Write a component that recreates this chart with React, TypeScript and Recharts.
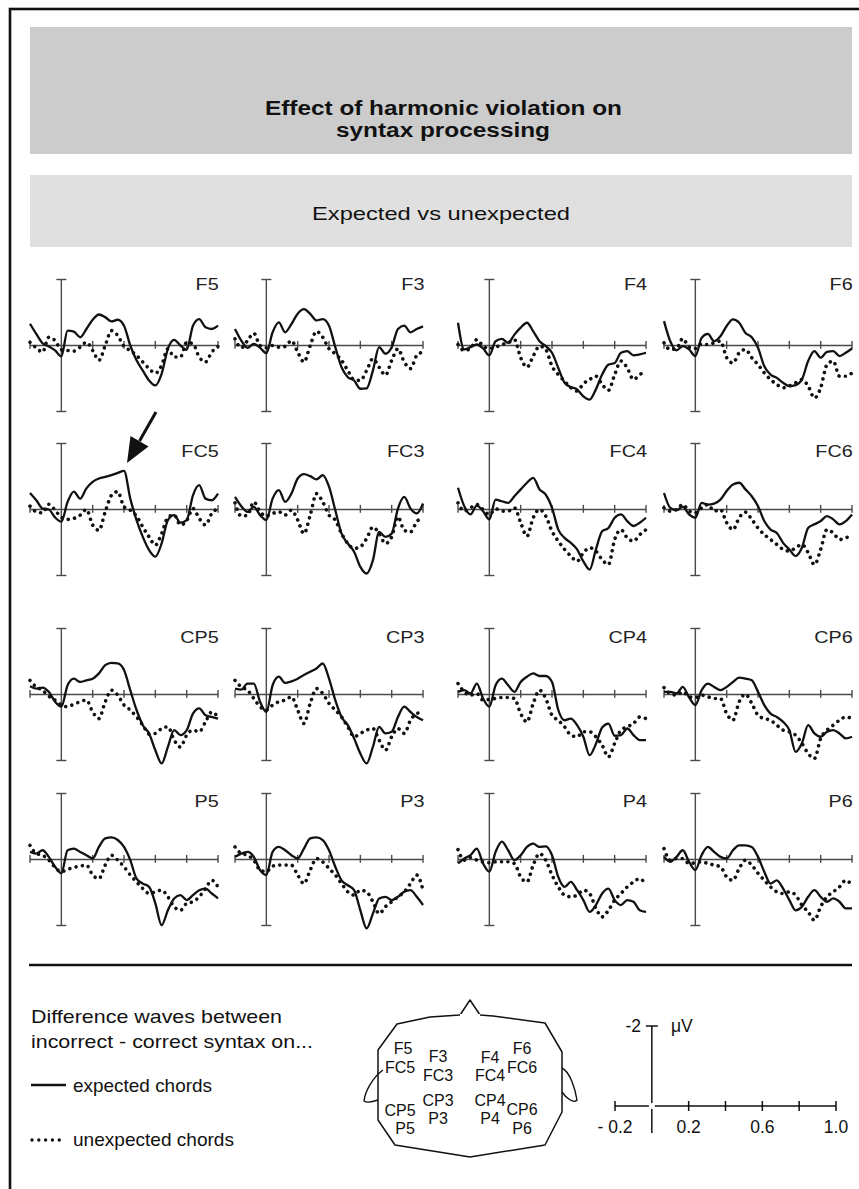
import React from 'react';
import { LineChart, Line, XAxis, YAxis, ReferenceLine } from 'recharts';

// time points (s) shared by every electrode
const TIMES = [-0.2, -0.16, -0.12, -0.08, -0.04, 0, 0.04, 0.08, 0.12, 0.16, 0.2, 0.24, 0.28, 0.32, 0.36, 0.4, 0.44, 0.48, 0.52, 0.56, 0.6, 0.64, 0.68, 0.72, 0.76, 0.8, 0.84, 0.88, 0.92, 0.96, 1.0];
const PANEL_TICKS = [-0.2, 0.2, 0.4, 0.6, 0.8, 1.0];

// difference waves in µV (negative plotted up)
const F5_EXP = [-0.66, -0.35, -0.07, 0.03, 0.15, 0.33, -0.45, -0.42, -0.25, -0.5, -0.78, -0.94, -0.86, -0.73, -0.78, -0.6, 0, 0.45, 0.76, 1.06, 1.21, 0.86, 0.1, -0.17, 0, 0.13, -0.6, -0.8, -0.55, -0.5, -0.6];
const F5_UNEXP = [-0.1, 0.07, 0.2, -0.25, -0.15, 0.13, 0.15, 0.17, 0.05, -0.1, 0.15, 0.45, 0, -0.45, -0.3, 0.03, 0.15, 0.3, 0.5, 0.7, 0.84, 0.6, 0.1, 0.35, 0.35, -0.1, -0.05, 0.35, 0.5, 0.2, 0.03];
const F3_EXP = [-0.5, -0.15, 0.07, -0.05, 0.07, 0.23, -0.4, -0.7, -0.4, -0.65, -0.96, -1.1, -0.96, -0.76, -0.8, -0.6, 0.05, 0.66, 0.96, 1.06, 1.31, 1.3, 0.76, 0.05, 0.25, 0.05, -0.5, -0.6, -0.4, -0.5, -0.58];
const F3_UNEXP = [-0.2, 0.07, -0.15, -0.37, 0, 0.07, 0, 0.05, 0.03, -0.15, 0.2, 0.5, 0, -0.43, -0.25, 0.1, 0.25, 0.45, 0.76, 1.04, 1.06, 0.76, 0.4, 0.66, 0.9, 0.45, 0.1, 0.5, 0.7, 0.3, 0.2];
const F4_EXP = [-0.69, 0.12, 0.05, -0.03, 0.09, 0.3, -0.13, -0.2, -0.08, -0.33, -0.54, -0.69, -0.43, -0.13, 0.02, 0.22, 0.68, 1.13, 1.26, 1.33, 1.54, 1.64, 1.33, 0.88, 0.58, 0.53, 0.22, 0.17, 0.3, 0.27, 0.22];
const F4_UNEXP = [-0.03, 0.15, 0.09, -0.18, 0.02, 0.09, 0.05, -0.03, -0.08, -0.18, 0.37, 0.66, 0.32, 0.02, 0.12, 0.63, 0.88, 1.08, 1.28, 1.38, 1.16, 1.03, 0.93, 1.18, 1.36, 0.88, 0.47, 0.68, 1.03, 0.88, 0.78];
const F6_EXP = [-0.74, -0.13, 0.15, 0.02, 0.12, 0.32, -0.23, -0.35, -0.13, -0.28, -0.59, -0.79, -0.69, -0.38, -0.25, 0.07, 0.63, 0.88, 0.98, 1.13, 1.23, 1.2, 1.03, 0.47, 0.17, 0.37, 0.19, 0.17, 0.32, 0.22, 0.09];
const F6_UNEXP = [-0.08, 0.12, 0.09, -0.21, 0.05, 0.09, -0.05, -0.03, -0.08, -0.13, 0.37, 0.53, 0.22, 0.12, 0.37, 0.58, 0.83, 1.03, 1.18, 1.28, 1.23, 1.13, 1.03, 1.23, 1.59, 1.28, 0.58, 0.47, 0.93, 0.93, 0.83];

const FC5_EXP = [-0.5, -0.28, -0.03, 0, 0.24, 0.37, -0.23, -0.54, -0.33, -0.64, -0.84, -0.94, -0.99, -1.04, -1.11, -1.17, -0.33, 0.32, 0.83, 1.23, 1.43, 1.03, 0.32, 0.17, 0.4, 0.32, -0.43, -0.74, -0.33, -0.28, -0.48];
const FC5_UNEXP = [-0.1, 0.07, 0.1, -0.16, 0.02, 0.24, 0.3, 0.27, 0.17, 0, 0.47, 0.63, 0.07, -0.43, -0.54, -0.08, 0.02, 0.2, 0.53, 0.83, 1.08, 0.73, 0.24, 0.17, 0.47, 0.34, -0.03, 0.27, 0.47, 0.12, -0.03];
const FC3_EXP = [-0.38, -0.1, 0.07, -0.08, 0.17, 0.32, -0.33, -0.59, -0.23, -0.48, -0.94, -1.07, -1.01, -0.91, -1.04, -0.69, 0.02, 0.73, 1.03, 1.28, 1.74, 1.94, 1.54, 0.68, 0.83, 0.73, -0.03, -0.38, -0.03, 0.12, -0.18];
const FC3_UNEXP = [-0.2, 0.2, 0.17, -0.23, 0.07, 0.2, 0.12, 0.07, 0.17, 0.02, 0.32, 0.73, 0.17, -0.48, -0.23, 0.17, 0.32, 0.73, 1.03, 1.18, 1.13, 0.88, 0.53, 0.73, 1.03, 0.83, 0.22, 0.63, 0.68, 0.37, 0.22];
const FC4_EXP = [-0.66, -0.1, 0.15, -0.12, 0.05, 0.3, -0.3, -0.25, -0.2, -0.4, -0.61, -0.81, -0.96, -0.61, -0.45, -0.05, 0.61, 0.86, 1.01, 1.21, 1.57, 1.82, 1.21, 0.66, 0.56, 0.25, 0.15, 0.35, 0.5, 0.4, 0.25];
const FC4_UNEXP = [-0.2, 0.05, -0.05, -0.15, 0, 0.15, -0.02, 0.05, 0.05, -0.05, 0.4, 0.81, 0.25, 0, 0.2, 0.66, 0.96, 1.21, 1.41, 1.57, 1.31, 1.16, 1.26, 1.52, 1.67, 0.91, 0.61, 0.86, 0.96, 0.76, 0.61];
const FC6_EXP = [-0.5, -0.05, 0.02, -0.08, 0.15, 0.25, -0.2, -0.15, -0.18, -0.3, -0.56, -0.76, -0.81, -0.61, -0.4, -0.1, 0.35, 0.61, 0.71, 1.01, 1.21, 1.41, 1.16, 0.56, 0.45, 0.35, 0.2, 0.3, 0.45, 0.35, 0.15];
const FC6_UNEXP = [-0.05, 0.05, 0, -0.15, 0.05, 0.1, -0.05, -0.15, 0.05, 0, 0.4, 0.61, 0.25, 0.08, 0.3, 0.56, 0.76, 0.91, 1.06, 1.21, 1.26, 1.16, 1.06, 1.31, 1.67, 1.21, 0.61, 0.71, 0.91, 0.86, 0.76];

const CP5_EXP = [-0.25, -0.18, -0.21, -0.08, 0.22, 0.37, -0.28, -0.48, -0.38, -0.43, -0.48, -0.64, -0.89, -0.96, -0.94, -0.74, -0.13, 0.47, 0.93, 1.18, 1.69, 2.09, 1.59, 1.08, 1.23, 1.08, 0.58, 0.42, 0.63, 0.68, 0.73];
const CP5_UNEXP = [-0.43, -0.23, -0.13, 0.05, 0.17, 0.32, 0.37, 0.29, 0.22, 0.17, 0.53, 0.73, 0.22, -0.13, 0.02, 0.32, 0.47, 0.68, 0.93, 1.2, 1.18, 1.03, 0.98, 1.38, 1.59, 1.23, 1.08, 1.13, 0.83, 0.53, 0.68];
const CP3_EXP = [-0.18, -0.15, -0.33, -0.33, 0.22, 0.53, -0.28, -0.54, -0.35, -0.4, -0.48, -0.59, -0.69, -0.79, -0.94, -0.48, 0.17, 0.68, 0.93, 1.33, 1.79, 2.09, 1.59, 0.98, 1.18, 1.13, 0.68, 0.37, 0.53, 0.68, 0.78];
const CP3_UNEXP = [-0.43, -0.23, -0.13, 0.12, 0.37, 0.47, 0.32, 0.22, 0.17, 0.07, 0.47, 0.88, 0.27, -0.18, -0.03, 0.27, 0.47, 0.68, 0.98, 1.28, 1.18, 1.08, 1.03, 1.38, 1.69, 1.28, 1.03, 1.18, 0.78, 0.58, 0.53];
const CP4_EXP = [-0.08, -0.13, -0.03, -0.33, 0.12, 0.37, -0.28, -0.48, -0.28, -0.08, -0.38, -0.54, -0.64, -0.56, -0.56, -0.38, 0.47, 0.78, 0.73, 0.93, 1.28, 1.84, 1.5, 1.0, 0.88, 1.25, 1.23, 1.03, 1.23, 1.38, 1.38];
const CP4_UNEXP = [-0.33, -0.08, 0.02, -0.03, 0.17, 0.15, 0.12, 0.09, 0.09, 0.12, 0.58, 0.83, 0.27, -0.13, 0.12, 0.63, 0.78, 0.98, 1.23, 1.28, 1.13, 1.13, 1.28, 1.54, 1.89, 1.48, 1.08, 0.98, 0.88, 0.68, 0.73];
const CP6_EXP = [-0.08, -0.08, -0.03, -0.23, 0.09, 0.32, -0.13, -0.33, -0.23, -0.13, -0.23, -0.38, -0.51, -0.48, -0.43, -0.08, 0.32, 0.58, 0.68, 0.83, 1.08, 1.74, 1.48, 0.93, 1.18, 1.28, 1.13, 1.08, 1.18, 1.33, 1.28];
const CP6_UNEXP = [-0.21, -0.03, 0.02, -0.08, 0.07, 0.09, 0.02, 0.07, 0.12, 0.12, 0.58, 0.78, 0.22, -0.01, 0.27, 0.63, 0.73, 0.78, 0.93, 1.08, 1.13, 1.23, 1.48, 1.79, 1.94, 1.33, 1.08, 0.93, 0.78, 0.68, 0.73];

const P5_EXP = [-0.23, -0.18, -0.28, -0.08, 0.22, 0.42, -0.28, -0.33, -0.23, -0.13, -0.03, -0.38, -0.64, -0.67, -0.59, -0.38, 0.02, 0.58, 0.73, 0.83, 1.33, 1.99, 1.54, 1.18, 1.08, 1.23, 1.08, 0.93, 0.88, 1.03, 1.18];
const P5_UNEXP = [-0.43, -0.18, -0.13, 0.02, 0.24, 0.37, 0.3, 0.24, 0.2, 0.17, 0.47, 0.58, 0.17, -0.13, 0.02, 0.22, 0.47, 0.68, 0.88, 1.03, 0.98, 0.93, 1.13, 1.43, 1.54, 1.33, 1.28, 1.13, 0.88, 0.63, 0.83];
const P3_EXP = [-0.08, -0.18, -0.23, -0.08, 0.32, 0.47, -0.23, -0.38, -0.28, -0.13, -0.03, -0.33, -0.64, -0.67, -0.59, -0.28, 0.22, 0.63, 0.78, 0.93, 1.54, 2.09, 1.64, 1.18, 1.13, 1.23, 1.13, 0.98, 0.93, 1.13, 1.38];
const P3_UNEXP = [-0.38, -0.18, -0.13, 0.02, 0.32, 0.37, 0.2, 0.17, 0.17, 0.17, 0.47, 0.73, 0.32, -0.03, 0.07, 0.27, 0.47, 0.73, 0.98, 1.08, 0.93, 0.98, 1.28, 1.64, 1.43, 1.28, 1.13, 0.98, 0.73, 0.47, 0.93];
const P4_EXP = [0.12, -0.03, -0.13, -0.33, 0.12, 0.37, -0.23, -0.54, -0.28, 0.02, -0.13, -0.38, -0.48, -0.38, -0.4, -0.13, 0.53, 0.83, 0.68, 0.93, 1.23, 1.59, 1.38, 1.03, 0.88, 1.23, 1.38, 1.23, 1.28, 1.54, 1.59];
const P4_UNEXP = [-0.3, 0.02, -0.06, 0.02, 0.07, 0.1, 0.07, 0.07, 0.07, 0.12, 0.53, 0.68, 0.17, -0.18, 0.02, 0.47, 0.83, 1.08, 1.13, 1.08, 0.93, 1.03, 1.48, 1.74, 1.54, 1.23, 1.03, 0.83, 0.68, 0.58, 0.78];
const P6_EXP = [-0.08, 0.07, -0.08, -0.28, 0.07, 0.32, -0.13, -0.38, -0.23, -0.08, -0.03, -0.28, -0.43, -0.43, -0.38, -0.08, 0.37, 0.73, 0.63, 0.88, 1.23, 1.54, 1.43, 1.13, 0.93, 1.13, 1.28, 1.18, 1.28, 1.48, 1.48];
const P6_UNEXP = [-0.33, 0.02, -0.03, -0.03, 0.12, 0.1, 0.07, 0.12, 0.17, 0.22, 0.53, 0.63, 0.27, 0.02, 0.17, 0.42, 0.63, 0.83, 0.98, 1.03, 0.98, 1.08, 1.38, 1.59, 1.84, 1.43, 1.13, 0.98, 0.83, 0.63, 0.78];

const PANELS = [
  { label: 'F5', exp: F5_EXP, unexp: F5_UNEXP },
  { label: 'F3', exp: F3_EXP, unexp: F3_UNEXP },
  { label: 'F4', exp: F4_EXP, unexp: F4_UNEXP },
  { label: 'F6', exp: F6_EXP, unexp: F6_UNEXP },
  { label: 'FC5', exp: FC5_EXP, unexp: FC5_UNEXP },
  { label: 'FC3', exp: FC3_EXP, unexp: FC3_UNEXP },
  { label: 'FC4', exp: FC4_EXP, unexp: FC4_UNEXP },
  { label: 'FC6', exp: FC6_EXP, unexp: FC6_UNEXP },
  { label: 'CP5', exp: CP5_EXP, unexp: CP5_UNEXP },
  { label: 'CP3', exp: CP3_EXP, unexp: CP3_UNEXP },
  { label: 'CP4', exp: CP4_EXP, unexp: CP4_UNEXP },
  { label: 'CP6', exp: CP6_EXP, unexp: CP6_UNEXP },
  { label: 'P5', exp: P5_EXP, unexp: P5_UNEXP },
  { label: 'P3', exp: P3_EXP, unexp: P3_UNEXP },
  { label: 'P4', exp: P4_EXP, unexp: P4_UNEXP },
  { label: 'P6', exp: P6_EXP, unexp: P6_UNEXP }
];

const SCALE_TICKS = [-0.2, 0, 0.2, 0.4, 0.6, 0.8, 1.0];
const SCALE_TICK_VALUES = [-0.2, 0.2, 0.6, 1.0];
const SCALE_TICK_LABELS = ['- 0.2', '0.2', '0.6', '1.0'];

const HEAD_LABELS = ['F5', 'FC5', 'CP5', 'P5', 'F3', 'FC3', 'CP3', 'P3', 'F4', 'FC4', 'CP4', 'P4', 'F6', 'FC6', 'CP6', 'P6'];

// layout (px)
const COL_ZERO_X = [61, 266.7, 489.3, 695];
const ROW_ZERO_Y = [345, 509.3, 694.3, 859.3];
const ROW_LABEL_Y = [290, 457, 643, 807];
const HEAD_POS = [
  [403, 1048], [400, 1067], [400, 1110], [405, 1128],
  [438, 1056], [438, 1075], [438, 1100], [438, 1118],
  [490, 1057], [490, 1075], [490, 1100], [490, 1118],
  [522, 1048], [522, 1067], [522, 1109], [522, 1128]
];

const FONT = '"Liberation Sans", Arial, Helvetica, sans-serif';
const AXIS = '#4a4a4a';
const INK = '#111';
const PX_PER_S = 156.7;
const PX_PER_UV = 33;
const PAD = 6;

function ErpPanel({ exp, unexp, zeroX, zeroY }: any) {
  const data = TIMES.map((t, i) => ({ t, exp: exp[i], unexp: unexp[i] }));
  const plotW = 1.2 * PX_PER_S;
  const plotH = 5 * PX_PER_UV;
  return (
    <div style={{ position: 'absolute', left: zeroX - 0.2 * PX_PER_S - PAD, top: zeroY - plotH / 2 - PAD }}>
      <LineChart width={plotW + 2 * PAD} height={plotH + 2 * PAD} data={data}
        margin={{ top: PAD, right: PAD, bottom: PAD, left: PAD }}>
        <XAxis dataKey="t" type="number" domain={[-0.2, 1]} hide />
        <YAxis type="number" domain={[-2.5, 2.5]} reversed hide />
        <ReferenceLine ifOverflow="visible" segment={[{ x: -0.2, y: 0 }, { x: 1, y: 0 }]} stroke={AXIS} strokeWidth={1.4} />
        {PANEL_TICKS.map(t => (
          <ReferenceLine key={t} ifOverflow="visible" segment={[{ x: t, y: -0.14 }, { x: t, y: 0.1 }]} stroke={AXIS} strokeWidth={1.4} />
        ))}
        <ReferenceLine ifOverflow="visible" segment={[{ x: 0, y: -2 }, { x: 0, y: 2 }]} stroke={AXIS} strokeWidth={1.4} />
        <ReferenceLine ifOverflow="visible" segment={[{ x: -0.032, y: -2 }, { x: 0.032, y: -2 }]} stroke={AXIS} strokeWidth={1.4} />
        <ReferenceLine ifOverflow="visible" segment={[{ x: -0.032, y: 2 }, { x: 0.032, y: 2 }]} stroke={AXIS} strokeWidth={1.4} />
        <Line dataKey="unexp" type="monotone" stroke={INK} strokeWidth={3.6} strokeDasharray="0.01 6.4"
          strokeLinecap="round" dot={false} activeDot={false} isAnimationActive={false} />
        <Line dataKey="exp" type="monotone" stroke={INK} strokeWidth={2.3} dot={false} activeDot={false} isAnimationActive={false} />
      </LineChart>
    </div>
  );
}

const ScaleTick = ({ x, y, payload }: any) => {
  const idx = SCALE_TICK_VALUES.indexOf(payload.value);
  return (
    <text x={x} y={y} textAnchor="middle" fontFamily={FONT} fontSize={17.5} fill={INK}>
      {SCALE_TICK_LABELS[idx]}
    </text>
  );
};

function ScaleBar() {
  // -0.2 s at x=615, 1.0 s at x=836; 0 µV at y=1106, -2 µV at y=1026
  const pxS = 221 / 1.2;
  const pxUv = 40;
  const top = 1106 - 2.5 * pxUv;
  const plotH = 3.175 * pxUv;
  const AX_H = 26;
  return (
    <div style={{ position: 'absolute', left: 615 - 30, top: top - PAD }}>
      <LineChart width={221 + 60} height={plotH + PAD + AX_H} data={[{ t: 0, v: 0 }]}
        margin={{ top: PAD, right: 30, bottom: 0, left: 30 }}>
        <XAxis dataKey="t" type="number" domain={[-0.2, 1]} ticks={SCALE_TICK_VALUES} height={AX_H}
          axisLine={false} tickLine={false} tickSize={0} tickMargin={0} tick={ScaleTick} interval={0} />
        <YAxis type="number" domain={[-2.5, 0.675]} reversed hide />
        <ReferenceLine ifOverflow="visible" segment={[{ x: -0.2, y: 0 }, { x: 1, y: 0 }]} stroke={INK} strokeWidth={1.5} />
        {SCALE_TICKS.filter(t => t !== 0).map(t => (
          <ReferenceLine key={t} ifOverflow="visible" segment={[{ x: t, y: -0.125 }, { x: t, y: 0.125 }]} stroke={INK} strokeWidth={1.5} />
        ))}
        <ReferenceLine ifOverflow="visible" segment={[{ x: 0, y: -2 }, { x: 0, y: 0.675 }]} stroke={INK} strokeWidth={1.5} />
        <ReferenceLine ifOverflow="visible" segment={[{ x: -6 / pxS, y: -2 }, { x: 6 / pxS, y: -2 }]} stroke={INK} strokeWidth={1.5} />
        <Line dataKey="v" stroke="none" dot={false} activeDot={false} isAnimationActive={false} />
      </LineChart>
    </div>
  );
}

function Decorations() {
  const tip = [127, 463];
  return (
    <svg width={859} height={1189} style={{ position: 'absolute', left: 0, top: 0 }}>
      <rect x={10} y={9} width={900} height={1300} fill="#fff" stroke={INK} strokeWidth={2.6} />
      <rect x={30} y={27} width={822} height={127} fill="#cccccc" />
      <text x={265} y={115} fontFamily={FONT} fontWeight="bold" fontSize={19.5} fill={INK}
        textLength={357} lengthAdjust="spacingAndGlyphs">Effect of harmonic violation on</text>
      <text x={336} y={137} fontFamily={FONT} fontWeight="bold" fontSize={19.5} fill={INK}
        textLength={214} lengthAdjust="spacingAndGlyphs">syntax processing</text>
      <rect x={30} y={175} width={822} height={72} fill="#e0e0e0" />
      <text x={312} y={220} fontFamily={FONT} fontSize={19} fill={INK}
        textLength={258} lengthAdjust="spacingAndGlyphs">Expected vs unexpected</text>

      {PANELS.map((p, i) => {
        const col = i % 4;
        const row = Math.floor(i / 4);
        const right = COL_ZERO_X[col] + PX_PER_S + 1;
        return (
          <text key={p.label} transform={`translate(${right},${ROW_LABEL_Y[row]}) scale(1.2,1)`}
            textAnchor="end" fontFamily={FONT} fontSize={16.5} fill="#222">{p.label}</text>
        );
      })}

      {/* arrow pointing at FC5 peak */}
      <line x1={156} y1={412} x2={139.5} y2={441} stroke={INK} strokeWidth={3} />
      <polygon points={`${tip[0]},${tip[1]} 148.5,446.5 130.5,436`} fill={INK} />

      <line x1={29} y1={965} x2={852} y2={965} stroke={INK} strokeWidth={2.4} />

      <text x={31} y={1023} fontFamily={FONT} fontSize={19} fill={INK} textLength={251} lengthAdjust="spacingAndGlyphs">Difference waves between</text>
      <text x={31} y={1048} fontFamily={FONT} fontSize={19} fill={INK} textLength={282} lengthAdjust="spacingAndGlyphs">incorrect - correct syntax on...</text>
      <line x1={31} y1={1085} x2={66} y2={1085} stroke={INK} strokeWidth={2.5} />
      <text x={73} y={1092} fontFamily={FONT} fontSize={19} fill={INK} textLength={139} lengthAdjust="spacingAndGlyphs">expected chords</text>
      <line x1={32} y1={1140} x2={60} y2={1140} stroke={INK} strokeWidth={3.4} strokeDasharray="0.01 6.8" strokeLinecap="round" />
      <text x={73} y={1146} fontFamily={FONT} fontSize={19} fill={INK} textLength={161} lengthAdjust="spacingAndGlyphs">unexpected chords</text>

      {/* head outline */}
      <polygon points="397,1024 430,1017 460,1015 470,1000 480,1015 493,1016 545,1023 562,1052 562,1112 545,1145 470,1157 395,1145 378,1120 378,1050"
        fill="none" stroke={INK} strokeWidth={1.5} strokeLinejoin="round" />
      <line x1={460} y1={1015} x2={480} y2={1015} stroke="#fff" strokeWidth={2} />
      <path d="M 383 1070 C 372 1078, 365 1092, 364 1101 C 368 1104, 374 1101, 378 1100" fill="none" stroke={INK} strokeWidth={1.4} />
      <path d="M 562 1068 C 570 1072, 575 1088, 577 1100 C 574 1104, 566 1098, 562 1092" fill="none" stroke={INK} strokeWidth={1.4} />
      {HEAD_LABELS.map((l, i) => (
        <text key={l} x={HEAD_POS[i][0]} y={HEAD_POS[i][1] + 6} textAnchor="middle" fontFamily={FONT} fontSize={16} fill={INK}>{l}</text>
      ))}

      <text x={641} y={1032} textAnchor="end" fontFamily={FONT} fontSize={17.5} fill={INK}>-2</text>
      <text x={671} y={1032} fontFamily={FONT} fontSize={17.5} fill={INK}>μV</text>
    </svg>
  );
}

export default function App() {
  return (
    <div style={{ position: 'absolute', left: 0, top: 0, width: 859, height: 1189, background: '#fff', overflow: 'hidden' }}>
      <Decorations />
      {PANELS.map((p, i) => (
        <ErpPanel key={p.label} exp={p.exp} unexp={p.unexp}
          zeroX={COL_ZERO_X[i % 4]} zeroY={ROW_ZERO_Y[Math.floor(i / 4)]} />
      ))}
      <ScaleBar />
    </div>
  );
}
